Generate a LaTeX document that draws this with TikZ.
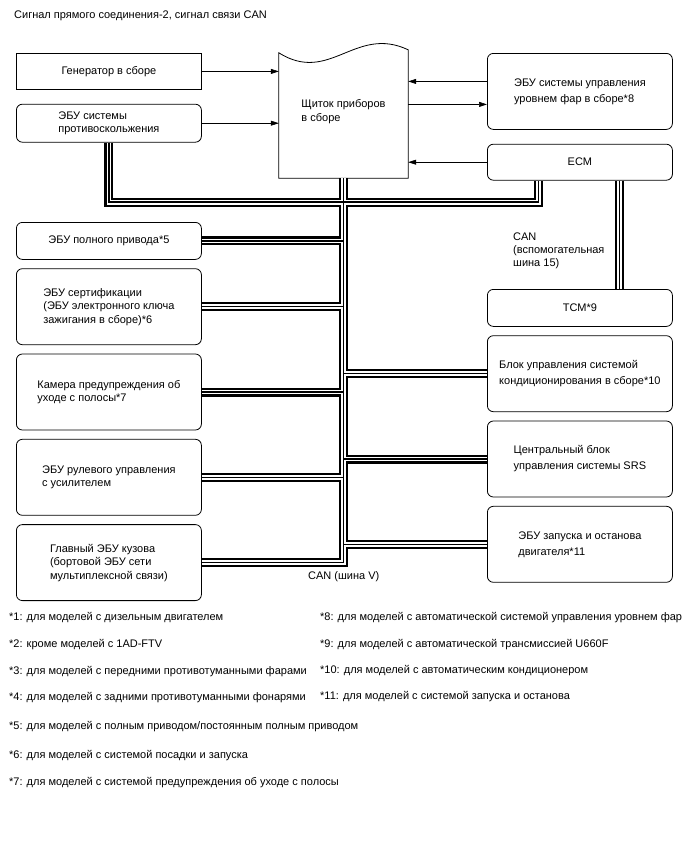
\documentclass[tikz,border=0pt]{standalone}
\usepackage{fontspec}
\setmainfont{Liberation Sans}
\usetikzlibrary{positioning,arrows.meta}

\begin{document}
\begin{tikzpicture}[x=1pt, y=-1pt, font=\fontsize{11}{13.5}\selectfont,
  box/.style={draw, line width=0.8pt, align=left, inner sep=0pt, minimum width=185pt, minimum height=#1},
  box/.default=37pt,
  ecu/.style={box=#1, rounded corners=6pt},
  ecu/.default=37pt,
  recu/.style={ecu=#1, font=\fontsize{11}{16}\selectfont},
  recu/.default=76pt,
  arr/.style={-{Triangle[length=8pt,width=5pt]}, line width=0.6pt},
  bus/.style={draw=black, line width=9pt, postaction={draw=white, line width=4.8pt}, postaction={draw=black, line width=1.5pt}},
  note/.style={anchor=west, inner sep=0pt}]
  \useasboundingbox (0,0) rectangle (688,852);

  \node[note] (title) at (14,16) {Сигнал прямого соединения-2, сигнал связи CAN};

  % left column
  \node[box=36pt, anchor=north west] (gen) at (16,53) {Генератор в сборе};
  \node[ecu=38pt, below=14pt of gen] (abs) {ЭБУ системы\\противоскольжения};
  \node[ecu, anchor=north west] (awd) at (16,222) {ЭБУ полного привода*5};
  \node[ecu=76pt, below=8.5pt of awd] (cert) {ЭБУ сертификации\\(ЭБУ электронного ключа\\зажигания в сборе)*6};
  \node[ecu=76pt, below=8.5pt of cert] (cam) {Камера предупреждения об\\уходе с полосы*7};
  \node[ecu=76pt, below=8.5pt of cam] (eps) {ЭБУ рулевого управления\\с усилителем};
  \node[ecu=76pt, below=8.5pt of eps] (body) {Главный ЭБУ кузова\\(бортовой ЭБУ сети\\мультиплексной связи)};

  % combination meter
  \node[align=left, inner sep=0pt, minimum width=129pt, minimum height=133pt] (meter) at (343.5,111.5) {Щиток приборов\\в сборе};
  \draw[line width=0.8pt] ([yshift=-8pt]meter.north west) .. controls +(51,32) and +(-53,-25) .. ([yshift=-5pt]meter.north east)
    -- (meter.south east) -- (meter.south west) -- cycle;

  % right column
  \node[recu, anchor=north west] (hl) at (487,53) {ЭБУ системы управления\\уровнем фар в сборе*8};
  \node[recu=36pt, below=14pt of hl] (ecm) {ECM};
  \node[recu=37pt, anchor=north west] (tcm) at (487,289) {TCM*9};
  \node[recu, below=8.5pt of tcm] (clim) {Блок управления системой\\кондиционирования в сборе*10};
  \node[recu, below=8.5pt of clim] (srs) {Центральный блок\\управления системы SRS};
  \node[recu, below=8.5pt of srs] (start) {ЭБУ запуска и останова\\двигателя*11};

  % direct lines
  \coordinate (hlin) at ([yshift=10pt]hl.west);
  \coordinate (hlout) at ([yshift=-13pt]hl.west);
  \draw[arr] (gen.east) -- (gen.east -| meter.west);
  \draw[arr] (abs.east) -- (abs.east -| meter.west);
  \draw[arr] (hlin) -- (hlin -| meter.east);
  \draw[arr] (hlout -| meter.east) -- (hlout);
  \draw[arr] (ecm.west) -- (ecm.west -| meter.east);

  % CAN buses
  \path (meter.south) ++(0,24) coordinate (canhi);
  \coordinate (ecma) at ([xshift=-41.5pt]ecm.south);
  \draw[bus] (abs.south) |- (canhi) -| (ecma)
    (meter.south) |- (start.west)
    (body.east) -| (start.west -| meter.south)
    (awd.east) -- (awd.east -| meter.south)
    (cert.east) -- (cert.east -| meter.south)
    (cam.east) -- (cam.east -| meter.south)
    (eps.east) -- (eps.east -| meter.south)
    (clim.west -| meter.south) -- (clim.west)
    (srs.west -| meter.south) -- (srs.west);
  \draw[bus] ([xshift=39.5pt]ecm.south) -- ([xshift=39.5pt]tcm.north);

  \node[note, align=left, font=\fontsize{11}{13}\selectfont] (subcan) at (513,251) {CAN\\(вспомогательная\\шина 15)};
  \node[note] (canv) at (308,577) {CAN (шина V)};

  % notes
  \node[note] (n1) at (9,618) {*1: для моделей с дизельным двигателем};
  \node[note] (n2) at (9,645) {*2: кроме моделей с 1AD-FTV};
  \node[note] (n3) at (9,672) {*3: для моделей с передними противотуманными фарами};
  \node[note] (n4) at (9,698) {*4: для моделей с задними противотуманными фонарями};
  \node[note] (n5) at (9,727) {*5: для моделей с полным приводом/постоянным полным приводом};
  \node[note] (n6) at (9,756) {*6: для моделей с системой посадки и запуска};
  \node[note] (n7) at (9,783) {*7: для моделей с системой предупреждения об уходе с полосы};
  \node[note] (n8) at (320,618) {*8: для моделей с автоматической системой управления уровнем фар};
  \node[note] (n9) at (320,645) {*9: для моделей с автоматической трансмиссией U660F};
  \node[note] (n10) at (320,671) {*10: для моделей с автоматическим кондиционером};
  \node[note] (n11) at (320,697) {*11: для моделей с системой запуска и останова};
\end{tikzpicture}
\end{document}
